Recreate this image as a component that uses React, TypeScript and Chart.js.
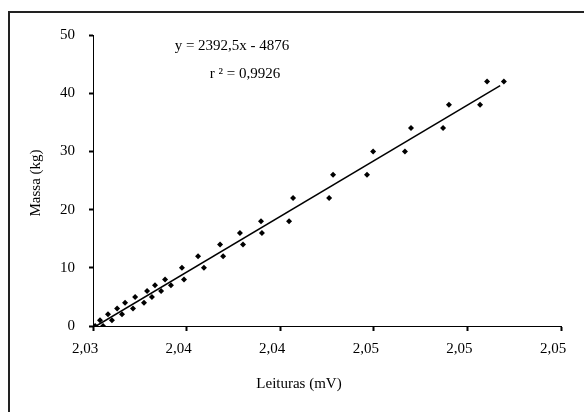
import React, { useEffect, useRef } from "react";
import { Chart, registerables } from "chart.js";

Chart.register(...registerables);

// Massa aplicada (kg)
const massa = [0, 1, 2, 3, 4, 5, 6, 7, 8, 10, 12, 14, 16, 18, 22, 26, 30, 34, 38, 42];
// Leituras (mV) - primeira série
const leituraA = [
  2.03799, 2.0382, 2.03854, 2.03893, 2.03927, 2.0397, 2.04021, 2.04055, 2.04098, 2.0417,
  2.04239, 2.04333, 2.04418, 2.04508, 2.04645, 2.04816, 2.04987, 2.05149, 2.05311, 2.05474,
];
// Leituras (mV) - segunda série
const leituraB = [
  2.03833, 2.03871, 2.03914, 2.03961, 2.04008, 2.04042, 2.04081, 2.04123, 2.04179, 2.04264,
  2.04346, 2.04431, 2.04512, 2.04628, 2.04799, 2.04961, 2.05123, 2.05286, 2.05444, 2.05546,
];
// Linha de tendência: y = a·x + b
const slope = 2392.5;
const intercept = -4876;
const trendX = [4876 / 2392.5, 2.0553];
// Eixo x
const xTickValues = [2.0379, 2.0419, 2.0459, 2.0499, 2.0539, 2.0579];
const xTickLabels = ["2,03", "2,04", "2,04", "2,05", "2,05", "2,05"];
const yTickValues = [0, 10, 20, 30, 40, 50];

const FONT = "'Liberation Serif', 'Times New Roman', serif";

export default function App() {
  const ref = useRef<HTMLCanvasElement | null>(null);

  useEffect(() => {
    const canvas = ref.current;
    if (!canvas) return;
    const pts = massa.flatMap((m, i) => [
      { x: leituraA[i], y: m },
      { x: leituraB[i], y: m },
    ]);
    const trend = trendX.map((x) => ({ x, y: slope * x + intercept }));

    const decor = {
      id: "decor",
      beforeDraw(chart: any) {
        const ctx = chart.ctx;
        ctx.save();
        ctx.fillStyle = "#fff";
        ctx.fillRect(0, 0, chart.width, chart.height);
        ctx.strokeStyle = "#222";
        ctx.lineWidth = 2;
        ctx.beginPath();
        ctx.moveTo(9, 412);
        ctx.lineTo(9, 12);
        ctx.lineTo(584, 12);
        ctx.stroke();
        ctx.restore();
      },
      afterDraw(chart: any) {
        const ctx = chart.ctx;
        ctx.save();
        ctx.fillStyle = "#000";
        ctx.font = `15px ${FONT}`;
        ctx.textAlign = "center";
        ctx.textBaseline = "middle";
        ctx.fillText("Leituras (mV)", 299, 384);
        ctx.fillText("y = 2392,5x - 4876", 232, 46);
        ctx.fillText("r \u00B2 = 0,9926", 245, 74);
        ctx.translate(36, 183);
        ctx.rotate(-Math.PI / 2);
        ctx.fillText("Massa (kg)", 0, 0);
        ctx.restore();
      },
    };

    const chart = new Chart(canvas, {
      type: "scatter",
      data: {
        datasets: [
          {
            label: "Leituras",
            data: pts,
            pointStyle: "rectRot",
            pointRadius: 3,
            pointBorderWidth: 0,
            backgroundColor: "#000",
            borderColor: "#000",
            showLine: false,
          },
          {
            label: "Tendência",
            data: trend,
            showLine: true,
            borderColor: "#000",
            borderWidth: 1.5,
            pointRadius: 0,
            fill: false,
          },
        ],
      },
      options: {
        responsive: false,
        animation: false,
        devicePixelRatio: 1,
        layout: { padding: { left: 0, top: 35, right: 23, bottom: 0 } },
        plugins: { legend: { display: false }, tooltip: { enabled: false } },
        scales: {
          x: {
            type: "linear",
            min: xTickValues[0],
            max: xTickValues[xTickValues.length - 1],
            afterBuildTicks: (scale: any) => {
              scale.ticks = xTickValues.map((v) => ({ value: v }));
            },
            afterFit: (scale: any) => {
              scale.height = 86;
            },
            grid: {
              display: true,
              drawOnChartArea: false,
              drawTicks: true,
              tickLength: 5,
              tickWidth: 2,
              tickColor: "#000",
            },
            border: { display: true, color: "#000", width: 1 },
            ticks: {
              color: "#000",
              font: { family: FONT, size: 15 },
              padding: 9,
              labelOffset: -8,
              maxRotation: 0,
              autoSkip: false,
              callback: (_v: any, i: number) => xTickLabels[i],
            },
          },
          y: {
            type: "linear",
            min: 0,
            max: 50,
            afterBuildTicks: (scale: any) => {
              scale.ticks = yTickValues.map((v) => ({ value: v }));
            },
            afterFit: (scale: any) => {
              scale.width = 93;
            },
            grid: {
              display: true,
              drawOnChartArea: false,
              drawTicks: true,
              tickLength: 4,
              tickWidth: 2,
              tickColor: "#000",
            },
            border: { display: true, color: "#000", width: 1 },
            ticks: {
              color: "#000",
              font: { family: FONT, size: 15 },
              padding: 14,
              callback: (v: any) => String(v),
            },
          },
        },
      },
      plugins: [decor],
    });
    return () => chart.destroy();
  }, []);

  return (
    <canvas
      ref={ref}
      width={584}
      height={412}
      style={{ position: "fixed", left: 0, top: 0, width: 584, height: 412 }}
    />
  );
}
